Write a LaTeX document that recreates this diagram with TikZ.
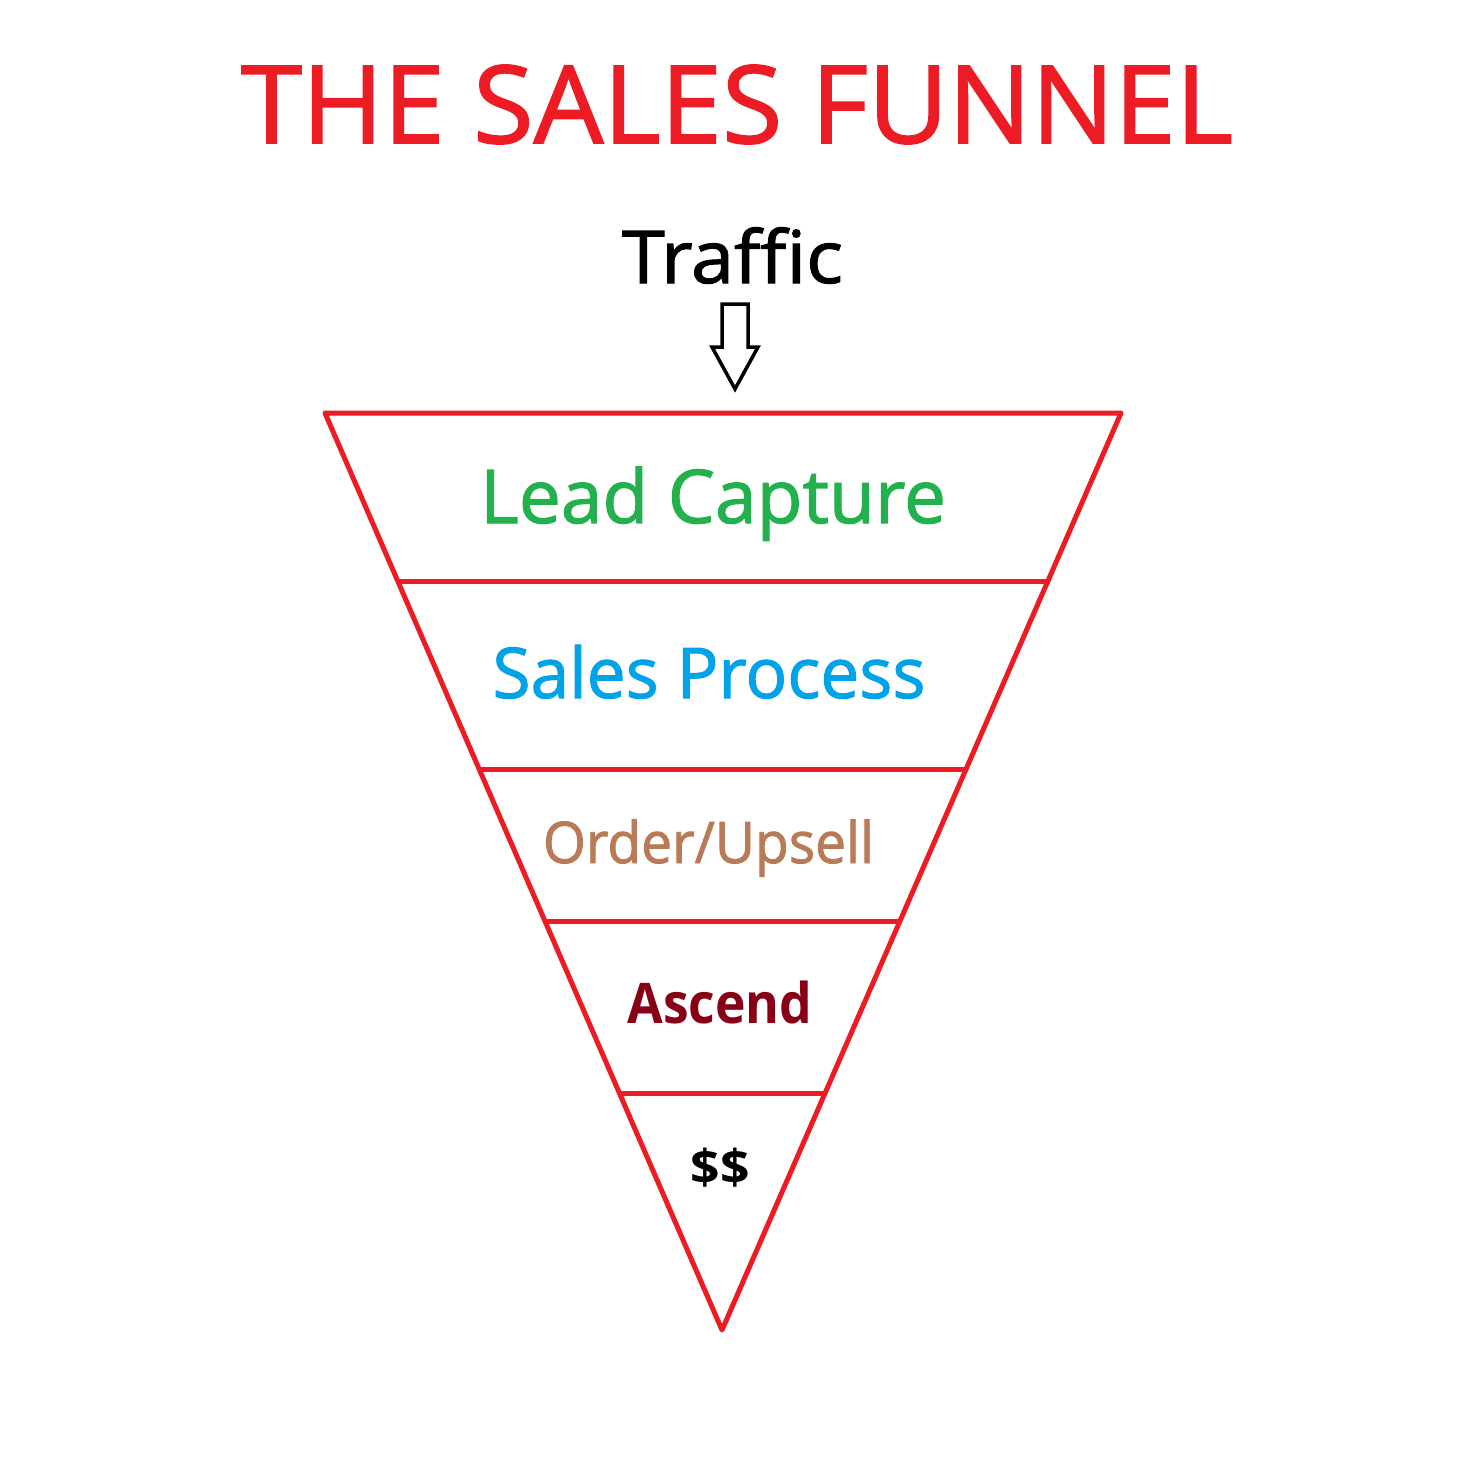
\documentclass[tikz,border=0pt]{standalone}
\usepackage{fontspec}
\setmainfont{Open Sans}
\newfontfamily\heavy[FakeBold=1.5]{Open Sans}
\usepackage{graphicx}
\definecolor{pRed}{HTML}{ED1C24}
\definecolor{pGreen}{HTML}{22B14C}
\definecolor{pBlue}{HTML}{00A2E8}
\definecolor{pBrown}{HTML}{B97A57}
\definecolor{pDark}{HTML}{880015}
\tikzset{
  lbl/.style={anchor=base, inner sep=0pt, outer sep=0pt},
  funnelline/.style={draw=pRed, line width=5pt, line join=round},
  blockarrow/.style={draw=black, line width=3.5pt, line join=miter, fill=white}
}
\newcommand{\fitw}[3]{\resizebox{#1pt}{\height}{\fontsize{#2pt}{#2pt}\selectfont #3}}
\begin{document}
\begin{tikzpicture}[x=1pt,y=-1pt]
\useasboundingbox[fill=white] (0,0) rectangle (1470,1478);
% title
\node[lbl, text=pRed] (title) at (737,143) {\fitw{992}{107.9}{\heavy THE SALES FUNNEL}};
\node[lbl, text=black] (traffic) at (732.5,283) {\fitw{221}{72.8}{\heavy Traffic}};
% block arrow
\draw[blockarrow] (722,304) -- (748,304) -- (748,347) -- (758,347) -- (735,389) -- (712,347) -- (722,347) -- cycle;
% funnel
\coordinate (tl) at (325,413);
\coordinate (tr) at (1121,413);
\coordinate (tip) at (722,1330);
\draw[funnelline] (tl) -- (tr) -- (tip) -- cycle;
\coordinate (l1) at (397.7,581); \coordinate (r1) at (1050,581);
\coordinate (l2) at (479.1,769); \coordinate (r2) at (966.1,769);
\coordinate (l3) at (544.9,921); \coordinate (r3) at (900.0,921);
\coordinate (l4) at (619.4,1093); \coordinate (r4) at (825.1,1093);
\draw[funnelline] (l1) -- (r1);
\draw[funnelline] (l2) -- (r2);
\draw[funnelline] (l3) -- (r3);
\draw[funnelline] (l4) -- (r4);
% labels
\node[lbl, text=pGreen] (lead) at (713,523) {\fitw{466}{74.2}{\heavy Lead Capture}};
\node[lbl, text=pBlue] (sales) at (709,698) {\fitw{433}{70}{\heavy Sales Process}};
\node[lbl, text=pBrown] (order) at (708.5,863) {\fitw{331}{57.4}{\heavy Order/Upsell}};
\node[lbl, text=pDark] (ascend) at (720,1023) {\fitw{185}{56}{\bfseries Ascend}};
\node[lbl, text=black] (money) at (720,1184) {\fitw{59}{48}{\bfseries \$\$}};
\end{tikzpicture}
\end{document}
